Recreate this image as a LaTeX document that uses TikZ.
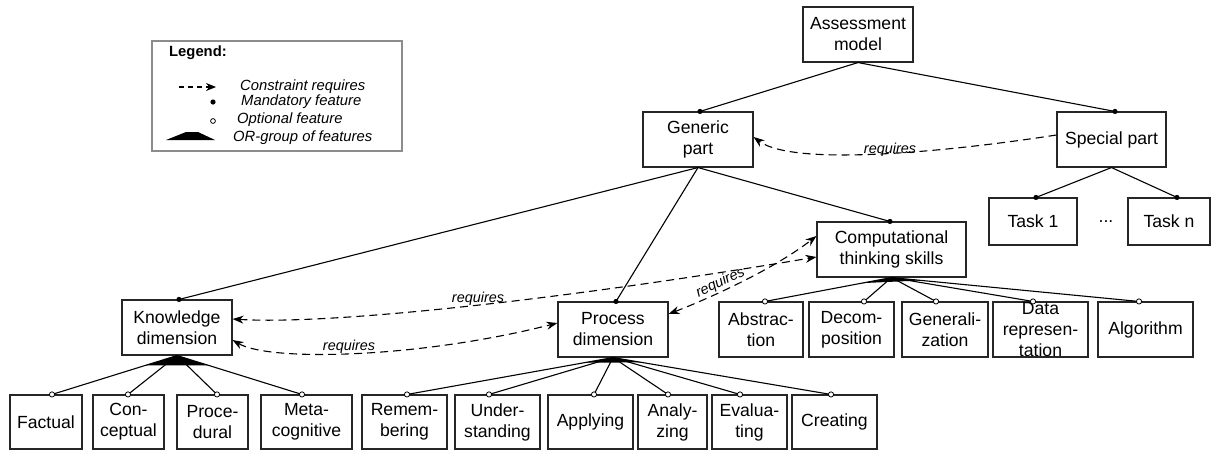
\documentclass[tikz,border=0pt]{standalone}
\usepackage{fontspec}
\setmainfont{Liberation Sans}
\usetikzlibrary{arrows.meta,calc}
\begin{document}
\begin{tikzpicture}[x=1pt,y=-1pt,
  box/.style={draw=black!85, line width=1.1pt, align=center, inner sep=0pt,
    font=\fontsize{17.6}{21}\selectfont, minimum height=55pt},
  kbox/.style={box, minimum height=54pt},
  txt/.style={font=\fontsize{17.6}{21}\selectfont, align=center, inner sep=0pt},
  con/.style={line width=1.1pt},
  req/.style={line width=1.1pt, dash pattern=on 8pt off 5pt},
  tip/.style={-{Stealth[length=11pt,width=8pt]}},
  tips/.style={{Stealth[length=11pt,width=8pt]}-{Stealth[length=11pt,width=8pt]}},
  lbl/.style={font=\fontsize{14.4}{17}\selectfont\itshape, inner sep=1pt},
  legtxt/.style={font=\fontsize{14.8}{17}\selectfont\itshape, anchor=west, inner sep=0pt},
  opt/.style={draw=black, fill=white, line width=0.8pt},
]
\useasboundingbox (0,0) rectangle (1215,450);
\fill[white] (0,0) rectangle (1215,450);

% ---------- Legend ----------
\draw[black!45, line width=1.1pt] (152,41) rectangle (402,151);
\node[font=\fontsize{14.8}{17}\selectfont\bfseries, anchor=west, inner sep=0pt] (legtitle) at (169,53) {Legend:};
\coordinate (la1) at (179,87);
\coordinate (la2) at (216,87);
\draw[line width=1.1pt, dash pattern=on 5pt off 4pt, -{Stealth[length=10pt,width=8pt]}] (la1) -- (la2);
\node[legtxt] (leg1) at (240,87) {Constraint requires};
\coordinate (ld) at (213,102);
\fill (ld) circle (2.6pt);
\node[legtxt] (leg2) at (241,102) {Mandatory feature};
\coordinate (lo) at (213,121);
\draw[opt] (lo) circle (2.4pt);
\node[legtxt] (leg3) at (237,120) {Optional feature};
\fill (166,140) -- (186,132) -- (198,132) -- (215,140) -- cycle;
\node[legtxt] (leg4) at (233,138) {OR-group of features};

% ---------- Top ----------
\node[box, minimum width=110pt] (am) at (858,34.5) {Assessment\\model};
\node[box, minimum width=110pt] (gp) at (698,139.5) {Generic\\part};
\node[box, minimum width=109pt] (sp) at (1111.5,139.5) {Special part};
\node[box, minimum width=88pt, minimum height=47pt] (t1) at (1033,221.5) {Task 1};
\node[box, minimum width=82pt, minimum height=47pt] (tn) at (1169,221.5) {Task n};
\node[txt] (dots) at (1106,222) {...};

% ---------- Middle ----------
\node[box, minimum width=110pt] (kd) at (177,327.5) {Knowledge\\dimension};
\node[box, minimum width=110pt] (pd) at (613,329.5) {Process\\dimension};
\node[box, minimum width=149pt] (ct) at (891.5,249.5) {Computational\\thinking skills};

\node[box, minimum width=84pt] (abs) at (761,329.5) {Abstrac-\\tion};
\node[box, minimum width=85pt] (dec) at (851.5,329.5) {Decom-\\position};
\node[box, minimum width=86pt] (gen) at (945,329.5) {Generali-\\zation};
\node[box, minimum width=95pt] (dat) at (1040.5,329.5) {};
\node[txt] (datt) at (dat.center) {Data\\represen-\\tation};
\node[box, minimum width=95pt] (alg) at (1145.5,329.5) {Algorithm};

% ---------- Bottom ----------
\node[kbox, minimum width=72pt] (fac) at (46,422) {Factual};
\node[kbox, minimum width=71pt] (con) at (128.5,422) {Con-\\ceptual};
\node[kbox, minimum width=71pt] (pro) at (212.5,422) {Proce-\\dural};
\node[kbox, minimum width=91pt] (met) at (306.5,422) {Meta-\\cognitive};
\node[kbox, minimum width=85pt] (rem) at (404.5,422) {Remem-\\bering};
\node[kbox, minimum width=85pt] (und) at (497.5,422) {Under-\\standing};
\node[kbox, minimum width=85pt] (app) at (590.5,422) {Applying};
\node[kbox, minimum width=69pt] (ana) at (672.5,422) {Analy-\\zing};
\node[kbox, minimum width=75pt] (eva) at (749.5,422) {Evalua-\\ting};
\node[kbox, minimum width=85pt] (cre) at (834.5,422) {Creating};

% ---------- attachment points ----------
\coordinate (gpt) at ([xshift=2pt]gp.north);
\coordinate (spt) at ([xshift=3.5pt]sp.north);
\coordinate (t1t) at ([xshift=3pt]t1.north);
\coordinate (tnt) at ([xshift=8pt]tn.north);
\coordinate (kdt) at ([xshift=2pt]kd.north);
\coordinate (pdt) at ([xshift=3pt]pd.north);
\coordinate (ctt) at ([xshift=-1.5pt]ct.north);

\coordinate (facc) at ([xshift=6pt]fac.north);
\coordinate (conc) at ([xshift=-0.5pt]con.north);
\coordinate (proc) at ([xshift=4.5pt]pro.north);
\coordinate (metc) at ([xshift=-4.5pt]met.north);
\coordinate (remc) at ([xshift=2.5pt]rem.north);
\coordinate (undc) at ([xshift=-8.5pt]und.north);
\coordinate (appc) at ([xshift=3.5pt]app.north);
\coordinate (anac) at ([xshift=-4.5pt]ana.north);
\coordinate (evac) at ([xshift=-9.5pt]eva.north);
\coordinate (crec) at ([xshift=-3.5pt]cre.north);
\coordinate (absc) at ([xshift=4pt]abs.north);
\coordinate (decc) at ([xshift=12.5pt]dec.north);
\coordinate (genc) at ([xshift=-9pt]gen.north);
\coordinate (datc) at ([xshift=-7.5pt]dat.north);
\coordinate (algc) at ([xshift=-6.5pt]alg.north);

% ---------- mandatory connections ----------
\draw[con] (am.south) -- (gpt);
\draw[con] (am.south) -- (spt);
\draw[con] (sp.south) -- (t1t);
\draw[con] (sp.south) -- (tnt);
\draw[con] (gp.south) -- (kdt);
\draw[con] (gp.south) -- (pdt);
\draw[con] (gp.south) -- (ctt);
\foreach \p in {gpt,spt,t1t,tnt,kdt,pdt,ctt} \fill (\p) circle (2.6pt);

% ---------- OR groups ----------
\foreach \c in {facc,conc,proc,metc} \draw[con] (kd.south) -- (\c);
\fill ($(kd.south)!33pt!(facc)$) -- (kd.south) -- ($(kd.south)!33pt!(metc)$) -- cycle;
\foreach \c in {remc,undc,appc,anac,evac,crec} \draw[con] (pd.south) -- (\c);
\fill ($(pd.south)!29pt!(remc)$) -- (pd.south) -- ($(pd.south)!29pt!(crec)$) -- cycle;
\foreach \c in {absc,decc,genc,datc,algc} \draw[con] (ct.south) -- (\c);
\fill ($(ct.south)!30pt!(absc)$) -- (ct.south) -- ($(ct.south)!30pt!(algc)$) -- cycle;
\foreach \c in {facc,conc,proc,metc,remc,undc,appc,anac,evac,crec,absc,decc,genc,datc,algc}
  \draw[opt] (\c) circle (2.6pt);

% ---------- requires constraints ----------
\draw[req, tip] ([yshift=4.5pt]sp.west) .. controls (960,150) and (795,168) .. ([yshift=2.5pt]gp.east);
\node[lbl] (r1) at (890,150) {requires};

\draw[req, tips] ([yshift=8.5pt]kd.east) .. controls (330,325) and (560,300) .. ([yshift=-7.5pt]ct.west);
\node[lbl] (r2) at (478,299) {requires};

\draw[req, tips] ([yshift=-12.5pt]kd.east) .. controls (270,362) and (420,358) .. ([yshift=6.5pt]pd.west);
\node[lbl] (r3) at (349,347) {requires};

\draw[req, tips] ([yshift=15.5pt]pd.east) .. controls (700,302) and (770,272) .. ([yshift=13.5pt]ct.west)
  node[lbl, pos=0.42, sloped, above=0pt] (r4) {requires};
\end{tikzpicture}
\end{document}
